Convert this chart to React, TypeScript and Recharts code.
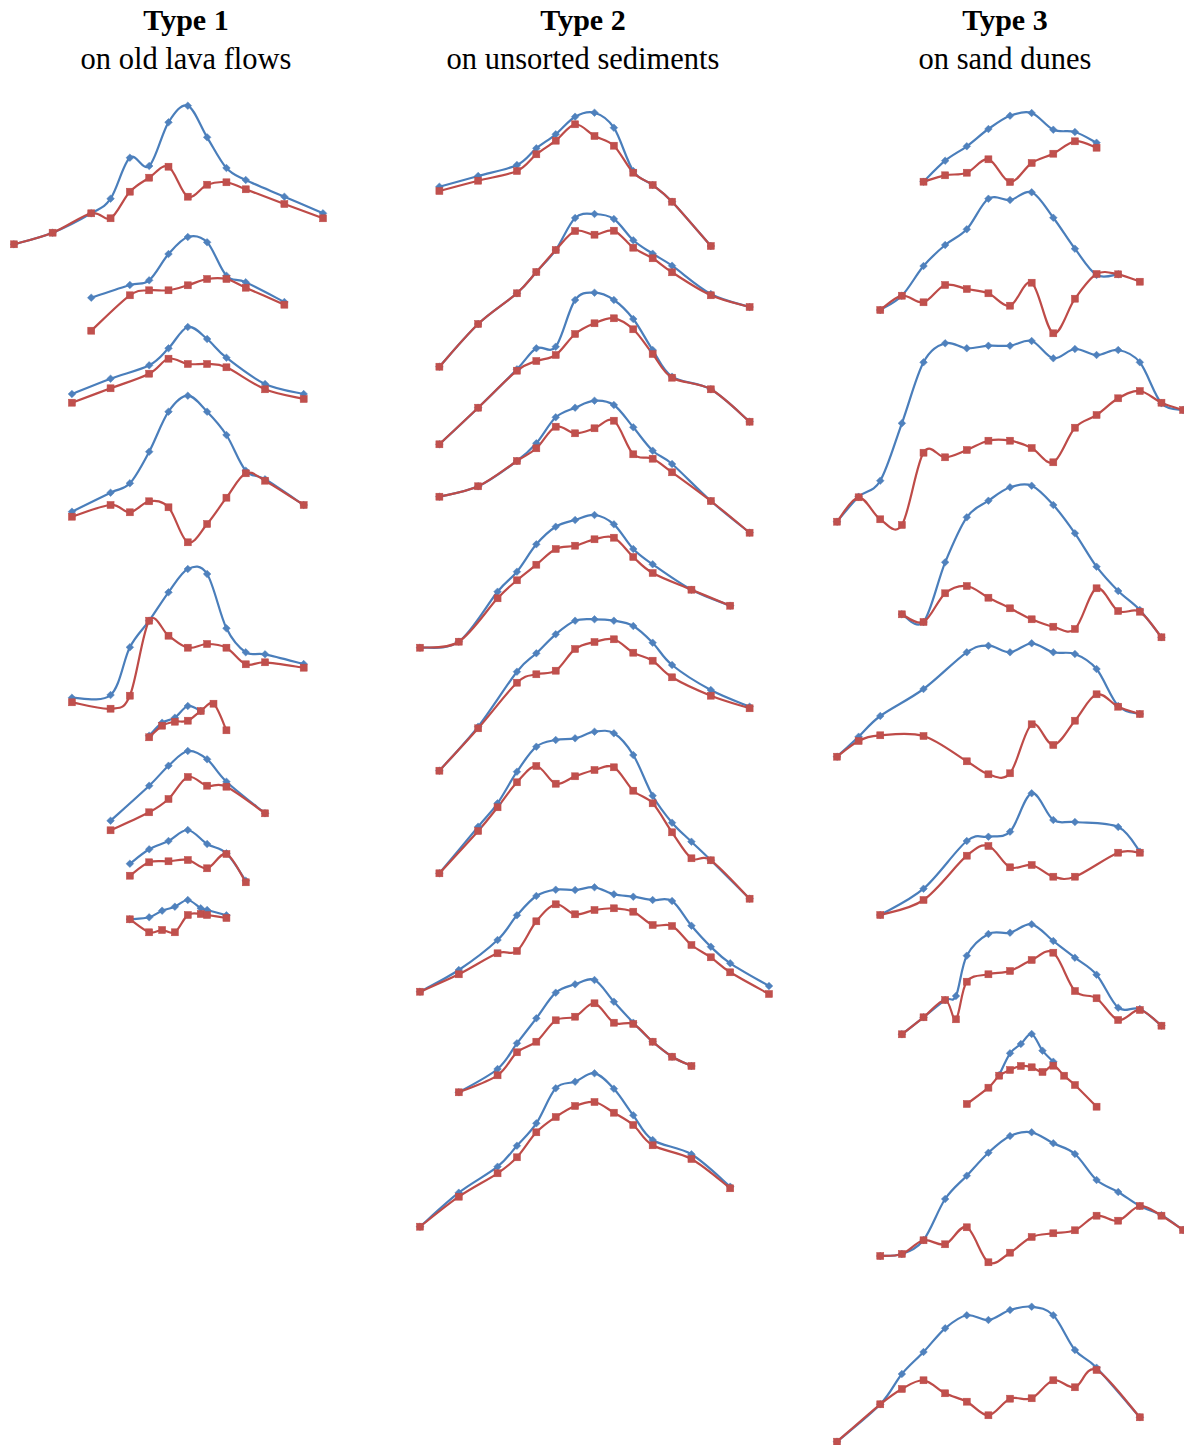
import React from 'react'
import { LineChart, Line, XAxis, YAxis } from 'recharts'

// profile points: [distance step, level (px from top)]
type Pt = [number, number]

const lavaBlue: Pt[][] = [
  [[0, 244.3], [2, 232.7], [4, 213.3], [5, 198.7], [6, 157.7], [7, 166], [8, 122.3], [9, 105.7], [10, 137.3], [11, 168], [12, 180], [14, 196.7], [16, 213.3]],
  [[4, 297.7], [6, 285], [7, 280.3], [8, 254], [9, 237], [10, 242.3], [11, 275.7], [12, 282.3], [14, 302]],
  [[3, 394], [5, 378.7], [7, 365.3], [8, 348.3], [9, 327], [10, 339], [11, 357.7], [13, 384], [15, 394]],
  [[3, 511.7], [5, 492.7], [6, 483.3], [7, 451.7], [8, 411.7], [9, 395.7], [10, 411.7], [11, 435], [12, 470.7], [13, 479.3], [15, 505]],
  [[3, 697.7], [5, 695], [6, 647.3], [7, 620.7], [8, 592.3], [9, 569], [10, 574], [11, 628.3], [12, 652.3], [13, 654.3], [15, 664]],
  [[7, 735.7], [7.67, 722.7], [8.33, 717.7], [9, 706], [9.67, 711]],
  [[5, 820.7], [7, 785.7], [8, 765.7], [9, 751], [10, 759.3], [11, 781.7], [13, 813.3]],
  [[6, 863.7], [7, 849.3], [8, 841], [9, 830], [10, 844], [11, 853.3], [12, 880.7]],
  [[6, 919.3], [7, 917.3], [7.67, 910.7], [8.33, 906.7], [9, 900], [9.67, 908.3], [10, 910], [11, 915.3]],
]

const lavaRed: Pt[][] = [
  [[0, 244.3], [2, 232.7], [4, 213.3], [5, 218.3], [6, 191.7], [7, 177.7], [8, 166.7], [9, 196.7], [10, 184.7], [11, 182.3], [12, 189.3], [14, 204], [16, 218.3]],
  [[4, 330.7], [6, 295.3], [7, 290.3], [8, 290.3], [9, 285.3], [10, 279], [11, 279], [12, 287.7], [14, 304.7]],
  [[3, 402.7], [5, 388.3], [7, 373.7], [8, 358.7], [9, 364], [10, 364], [11, 367.3], [13, 389.3], [15, 399]],
  [[3, 516.7], [5, 505], [6, 512.3], [7, 501.3], [8, 507.3], [9, 542.3], [10, 524], [11, 497.7], [12, 473.3], [13, 480.7], [15, 505]],
  [[3, 702.3], [5, 708.7], [6, 695.7], [7, 620.7], [8, 635.7], [9, 647.7], [10, 644], [11, 647.7], [12, 664.3], [13, 662.3], [15, 667.7]],
  [[7, 737.3], [7.67, 725.7], [8.33, 721.7], [9, 720.7], [9.67, 711], [10.33, 703.7], [11, 730.3]],
  [[5, 830.3], [7, 812.3], [8, 799], [9, 777], [10, 785.7], [11, 786.7], [13, 813.3]],
  [[6, 875.7], [7, 862.3], [8, 861.3], [9, 860], [10, 868.3], [11, 854], [12, 882.3]],
  [[6, 919.3], [7, 932.3], [7.67, 930], [8.33, 932.3], [9, 915], [9.67, 914], [10, 915], [11, 918]],
]

const sedimentBlue: Pt[][] = [
  [[1, 186.7], [3, 176], [5, 165], [6, 148.3], [7, 134.3], [8, 116.7], [9, 112.7], [10, 127.7], [11, 171], [12, 185], [13, 201.7], [15, 246]],
  [[1, 366.7], [3, 324], [5, 293.3], [6, 272], [7, 250], [8, 218], [9, 214], [10, 219], [11, 240.3], [12, 253.7], [13, 265.7], [15, 294], [17, 307]],
  [[1, 444.3], [3, 407.7], [5, 369.3], [6, 348.3], [7, 346.7], [8, 300], [9, 292.7], [10, 300], [11, 319], [12, 350], [13, 376.7], [15, 389.3], [17, 421.7]],
  [[1, 496.7], [3, 486.3], [5, 461], [6, 443.3], [7, 417.3], [8, 407.7], [9, 400.7], [10, 405], [11, 427.3], [12, 450.7], [13, 464], [15, 501], [17, 532.7]],
  [[0, 647.7], [2, 641.7], [4, 591.7], [5, 571.7], [6, 544.3], [7, 526.7], [8, 520], [9, 515], [10, 524.3], [11, 549], [12, 564.3], [14, 589.7], [16, 605.7]],
  [[1, 770.7], [3, 726.7], [5, 671.7], [6, 653.3], [7, 634.3], [8, 620.7], [9, 619.3], [10, 620.7], [11, 626], [12, 642.7], [13, 665], [15, 690], [17, 706.7]],
  [[1, 873.3], [3, 826.7], [4, 803.3], [5, 771.7], [6, 746.7], [7, 740], [8, 738.3], [9, 731.7], [10, 733.3], [11, 755], [12, 795.7], [13, 822.7], [14, 841.7], [15, 860.3], [17, 898.7]],
  [[0, 991.7], [2, 970], [4, 940], [5, 915.3], [6, 896], [7, 889.7], [8, 890], [9, 887.3], [10, 894.3], [11, 896.7], [12, 900], [13, 901], [14, 925.7], [15, 946.7], [16, 963.3], [18, 986]],
  [[2, 1092.3], [4, 1069], [5, 1043.3], [6, 1018.3], [7, 992.7], [8, 984.3], [9, 980], [10, 1001.7], [11, 1022.7], [12, 1041.7], [13, 1056.7], [14, 1066]],
  [[0, 1226.7], [2, 1192.7], [4, 1166.7], [5, 1145.7], [6, 1123.3], [7, 1088.3], [8, 1081.7], [9, 1073.3], [10, 1088.7], [11, 1115.3], [12, 1140], [14, 1154.3], [16, 1186.7]],
]

const sedimentRed: Pt[][] = [
  [[1, 191], [3, 180.7], [5, 171], [6, 154.3], [7, 140.7], [8, 124.3], [9, 136], [10, 145.7], [11, 172.7], [12, 185], [13, 201.7], [15, 246]],
  [[1, 366.7], [3, 324], [5, 293.3], [6, 272], [7, 250], [8, 231], [9, 234.7], [10, 230.7], [11, 247.7], [12, 258.3], [13, 272.3], [15, 295.3], [17, 307]],
  [[1, 444.3], [3, 407.7], [5, 370.7], [6, 361], [7, 355], [8, 334], [9, 323.3], [10, 318.3], [11, 329.3], [12, 354], [13, 377.7], [15, 389.3], [17, 421.7]],
  [[1, 496.7], [3, 486.3], [5, 461], [6, 448.3], [7, 426.7], [8, 433.3], [9, 428.3], [10, 420.7], [11, 454.3], [12, 458.7], [13, 472.3], [15, 501], [17, 532.7]],
  [[0, 647.7], [2, 641.7], [4, 598.3], [5, 580.3], [6, 564.7], [7, 549], [8, 545.7], [9, 539.3], [10, 537.7], [11, 557], [12, 573], [14, 589.7], [16, 605.7]],
  [[1, 770.7], [3, 728.3], [5, 682.7], [6, 674.3], [7, 670.7], [8, 649], [9, 642], [10, 639.3], [11, 652.7], [12, 660.7], [13, 677.3], [15, 695.7], [17, 708.3]],
  [[1, 873.3], [3, 831], [4, 807.3], [5, 782.3], [6, 766], [7, 783.7], [8, 776.3], [9, 770], [10, 767.3], [11, 790.7], [12, 803.3], [13, 832.3], [14, 858.3], [15, 860.3], [17, 898.7]],
  [[0, 991.7], [2, 974.3], [4, 953.3], [5, 951], [6, 921.3], [7, 904.3], [8, 914.3], [9, 910], [10, 908.3], [11, 911.7], [12, 925], [13, 926], [14, 945], [15, 957.3], [16, 972.3], [18, 994]],
  [[2, 1092.3], [4, 1075.3], [5, 1052.3], [6, 1041.7], [7, 1020.3], [8, 1016.7], [9, 1003.3], [10, 1022.7], [11, 1024], [12, 1041.7], [13, 1056.7], [14, 1066]],
  [[0, 1226.7], [2, 1196.7], [4, 1173.3], [5, 1157.3], [6, 1132.3], [7, 1117], [8, 1106], [9, 1102], [10, 1112.7], [11, 1125], [12, 1145.3], [14, 1159], [16, 1188.3]],
]

const duneBlue: Pt[][] = [
  [[4, 181.7], [5, 160.7], [6, 146.3], [7, 129], [8, 115.7], [9, 113], [10, 129.7], [11, 132], [12, 142.7]],
  [[2, 310], [3, 295.7], [4, 266], [5, 245], [6, 229.3], [7, 198.7], [8, 200], [9, 192.3], [10, 217.7], [11, 248.7], [12, 275], [13, 274.3]],
  [[0, 521.7], [1, 496.7], [2, 480.7], [3, 423.3], [4, 362.3], [5, 343.3], [6, 348.3], [7, 345.7], [8, 345.7], [9, 341], [10, 358.3], [11, 349], [12, 355], [13, 350], [14, 362.3], [15, 403.3], [16, 410]],
  [[3, 614.3], [4, 622], [5, 562.3], [6, 517.3], [7, 500.7], [8, 487.3], [9, 485.7], [10, 505], [11, 533.3], [12, 566.7], [13, 591], [14, 610], [15, 637.3]],
  [[0, 756.7], [1, 736.7], [2, 716], [4, 689], [6, 652.3], [7, 645.7], [8, 652.3], [9, 643.3], [10, 652.3], [11, 654], [12, 669], [13, 706], [14, 714]],
  [[2, 915], [4, 888.7], [6, 841], [7, 836.7], [8, 831.7], [9, 793.3], [10, 820], [11, 822], [13, 827], [14, 851.7]],
  [[3, 1034.3], [4, 1017.3], [5, 1000], [5.5, 996], [6, 955.7], [7, 934], [8, 932.7], [9, 924.3], [10, 941], [11, 957.7], [12, 974.7], [13, 1007.7], [14, 1009], [15, 1025.7]],
  [[7.5, 1075], [8, 1053.3], [8.5, 1044], [9, 1034], [9.5, 1050.7], [10, 1061.7]],
  [[2, 1256], [3, 1254], [4, 1240], [5, 1199], [6, 1175.7], [7, 1152.7], [8, 1136], [9, 1132.3], [10, 1143.3], [11, 1154], [12, 1180], [13, 1192], [14, 1206], [15, 1215.3], [16, 1230]],
  [[0, 1441.7], [2, 1404.3], [3, 1374], [4, 1352], [5, 1328.3], [6, 1315.3], [7, 1320], [8, 1310], [9, 1306.7], [10, 1315.3], [11, 1350], [12, 1367.7], [14, 1417.3]],
]

const duneRed: Pt[][] = [
  [[4, 181.7], [5, 175.3], [6, 172.7], [7, 159.3], [8, 182], [9, 163], [10, 153.7], [11, 141.3], [12, 147.7]],
  [[2, 310], [3, 295.7], [4, 302.3], [5, 285], [6, 289], [7, 293.3], [8, 305.7], [9, 282.7], [10, 333.3], [11, 298.7], [12, 274], [13, 274.3], [14, 281.7]],
  [[0, 521.7], [1, 497.3], [2, 519.3], [3, 525], [4, 452.7], [5, 457.3], [6, 450], [7, 440.7], [8, 440.7], [9, 448], [10, 462.3], [11, 427.7], [12, 415], [13, 398.3], [14, 391], [15, 402.7], [16, 410]],
  [[3, 614.3], [4, 622], [5, 593.3], [6, 586], [7, 597.7], [8, 608.3], [9, 619.3], [10, 626.7], [11, 629], [12, 588.3], [13, 611], [14, 611.7], [15, 637.3]],
  [[0, 756.7], [1, 741], [2, 735.3], [4, 736], [6, 761.3], [7, 774.3], [8, 773.3], [9, 724.3], [10, 745], [11, 720.7], [12, 694.3], [13, 706.7], [14, 714]],
  [[2, 915], [4, 900], [6, 855.7], [7, 846], [8, 867.3], [9, 865], [10, 876.7], [11, 876.7], [13, 852.7], [14, 852.7]],
  [[3, 1034.3], [4, 1017.3], [5, 1000], [5.5, 1019.3], [6, 981.7], [7, 974.3], [8, 971], [9, 960], [10, 952.7], [11, 991], [12, 998.3], [13, 1020], [14, 1010], [15, 1025.7]],
  [[6, 1104], [7, 1087.7], [7.5, 1075.7], [8, 1070], [8.5, 1066], [9, 1067.3], [9.5, 1072], [10, 1065.7], [10.5, 1075.7], [11, 1085], [12, 1106.7]],
  [[2, 1256], [3, 1254], [4, 1240.3], [5, 1244.3], [6, 1227.3], [7, 1262.3], [8, 1252.7], [9, 1237], [10, 1233.3], [11, 1230.3], [12, 1215.7], [13, 1220.7], [14, 1206], [15, 1215.7], [16, 1230]],
  [[0, 1441.7], [2, 1404.3], [3, 1389], [4, 1380.3], [5, 1393.3], [6, 1401.7], [7, 1415.3], [8, 1398.7], [9, 1398.3], [10, 1380.3], [11, 1387.3], [12, 1370], [14, 1417.3]],
]

const titles = ['Type 1', 'Type 2', 'Type 3']
const subtitles = ['on old lava flows', 'on unsorted sediments', 'on sand dunes']

const W = 1184
const H = 1445
const PAD = 8
const BLUE = '#4A7EBB'
const RED = '#BE4B48'

// where each column's first and last step sit on the page
const columns = [
  { blue: lavaBlue, red: lavaRed, xMax: 16, x0: 14, x1: 323, titleX: 186 },
  { blue: sedimentBlue, red: sedimentRed, xMax: 18, x0: 420, x1: 769, titleX: 583 },
  { blue: duneBlue, red: duneRed, xMax: 16, x0: 837.3, x1: 1183.4, titleX: 1005 },
]

// Excel-like smoothed line: Bezier segments, handles at 1/6 of the neighbour chord
const excelSmooth = (context: any) => {
  let pts: number[][] = []
  return {
    areaStart() {},
    areaEnd() {},
    lineStart() {
      pts = []
    },
    point(x: number, y: number) {
      pts.push([+x, +y])
    },
    lineEnd() {
      const n = pts.length
      if (!n) return
      context.moveTo(pts[0][0], pts[0][1])
      for (let i = 0; i < n - 1; i++) {
        const p0 = pts[i - 1] || pts[i]
        const p1 = pts[i]
        const p2 = pts[i + 1]
        const p3 = pts[i + 2] || p2
        context.bezierCurveTo(
          p1[0] + (p2[0] - p0[0]) / 6,
          p1[1] + (p2[1] - p0[1]) / 6,
          p2[0] - (p3[0] - p1[0]) / 6,
          p2[1] - (p3[1] - p1[1]) / 6,
          p2[0],
          p2[1]
        )
      }
    }
  }
}

const Diamond = (props: any) => {
  const { cx, cy, index } = props
  if (cx == null || cy == null) return <g key={`d-${index}`} />
  return (
    <path
      key={`d-${index}`}
      d={`M${cx},${cy - 3.8}L${cx + 3.8},${cy}L${cx},${cy + 3.8}L${cx - 3.8},${cy}Z`}
      fill="#4F81BD"
      stroke="#4A7EBB"
      strokeWidth={0.5}
    />
  )
}

const Square = (props: any) => {
  const { cx, cy, index } = props
  if (cx == null || cy == null) return <g key={`s-${index}`} />
  return (
    <rect
      key={`s-${index}`}
      x={cx - 3.5}
      y={cy - 3.5}
      width={7}
      height={7}
      fill="#C0504D"
      stroke="#BE4B48"
      strokeWidth={0.5}
    />
  )
}

const toRows = (pts: Pt[]) => pts.map(([x, y]) => ({ x, y }))

function ProfileColumn({ col }: { col: (typeof columns)[number] }) {
  const width = col.x1 - col.x0 + PAD * 2
  return (
    <div style={{ position: 'absolute', left: col.x0 - PAD, top: 0 }}>
      <LineChart width={width} height={H} margin={{ top: 0, right: PAD, bottom: 0, left: PAD }}>
        <XAxis type="number" dataKey="x" domain={[0, col.xMax]} hide />
        <YAxis type="number" domain={[0, H]} reversed hide />
        {col.blue.map((pts, i) => [
          <Line
            key={`b-${i}`}
            data={toRows(pts)}
            dataKey="y"
            type={excelSmooth as any}
            stroke={BLUE}
            strokeWidth={2.2}
            dot={Diamond}
            activeDot={false}
            isAnimationActive={false}
          />,
          <Line
            key={`r-${i}`}
            data={toRows(col.red[i])}
            dataKey="y"
            type={excelSmooth as any}
            stroke={RED}
            strokeWidth={2.2}
            dot={Square}
            activeDot={false}
            isAnimationActive={false}
          />
        ])}
      </LineChart>
    </div>
  )
}

export default function App() {
  return (
    <div
      style={{
        position: 'absolute',
        left: 0,
        top: 0,
        width: W,
        height: H,
        overflow: 'hidden',
        background: '#fff',
        fontFamily: '"Liberation Serif", "Times New Roman", serif',
        color: '#000'
      }}
    >
      {columns.map((col, i) => (
        <ProfileColumn key={i} col={col} />
      ))}
      {columns.map((col, i) => (
        <div
          key={`t-${i}`}
          style={{
            position: 'absolute',
            left: col.titleX - 200,
            width: 400,
            top: 0,
            textAlign: 'center',
            fontSize: 30.5,
            lineHeight: '39.5px'
          }}
        >
          <div style={{ fontWeight: 'bold', fontSize: 30 }}>{titles[i]}</div>
          <div>{subtitles[i]}</div>
        </div>
      ))}
    </div>
  )
}
